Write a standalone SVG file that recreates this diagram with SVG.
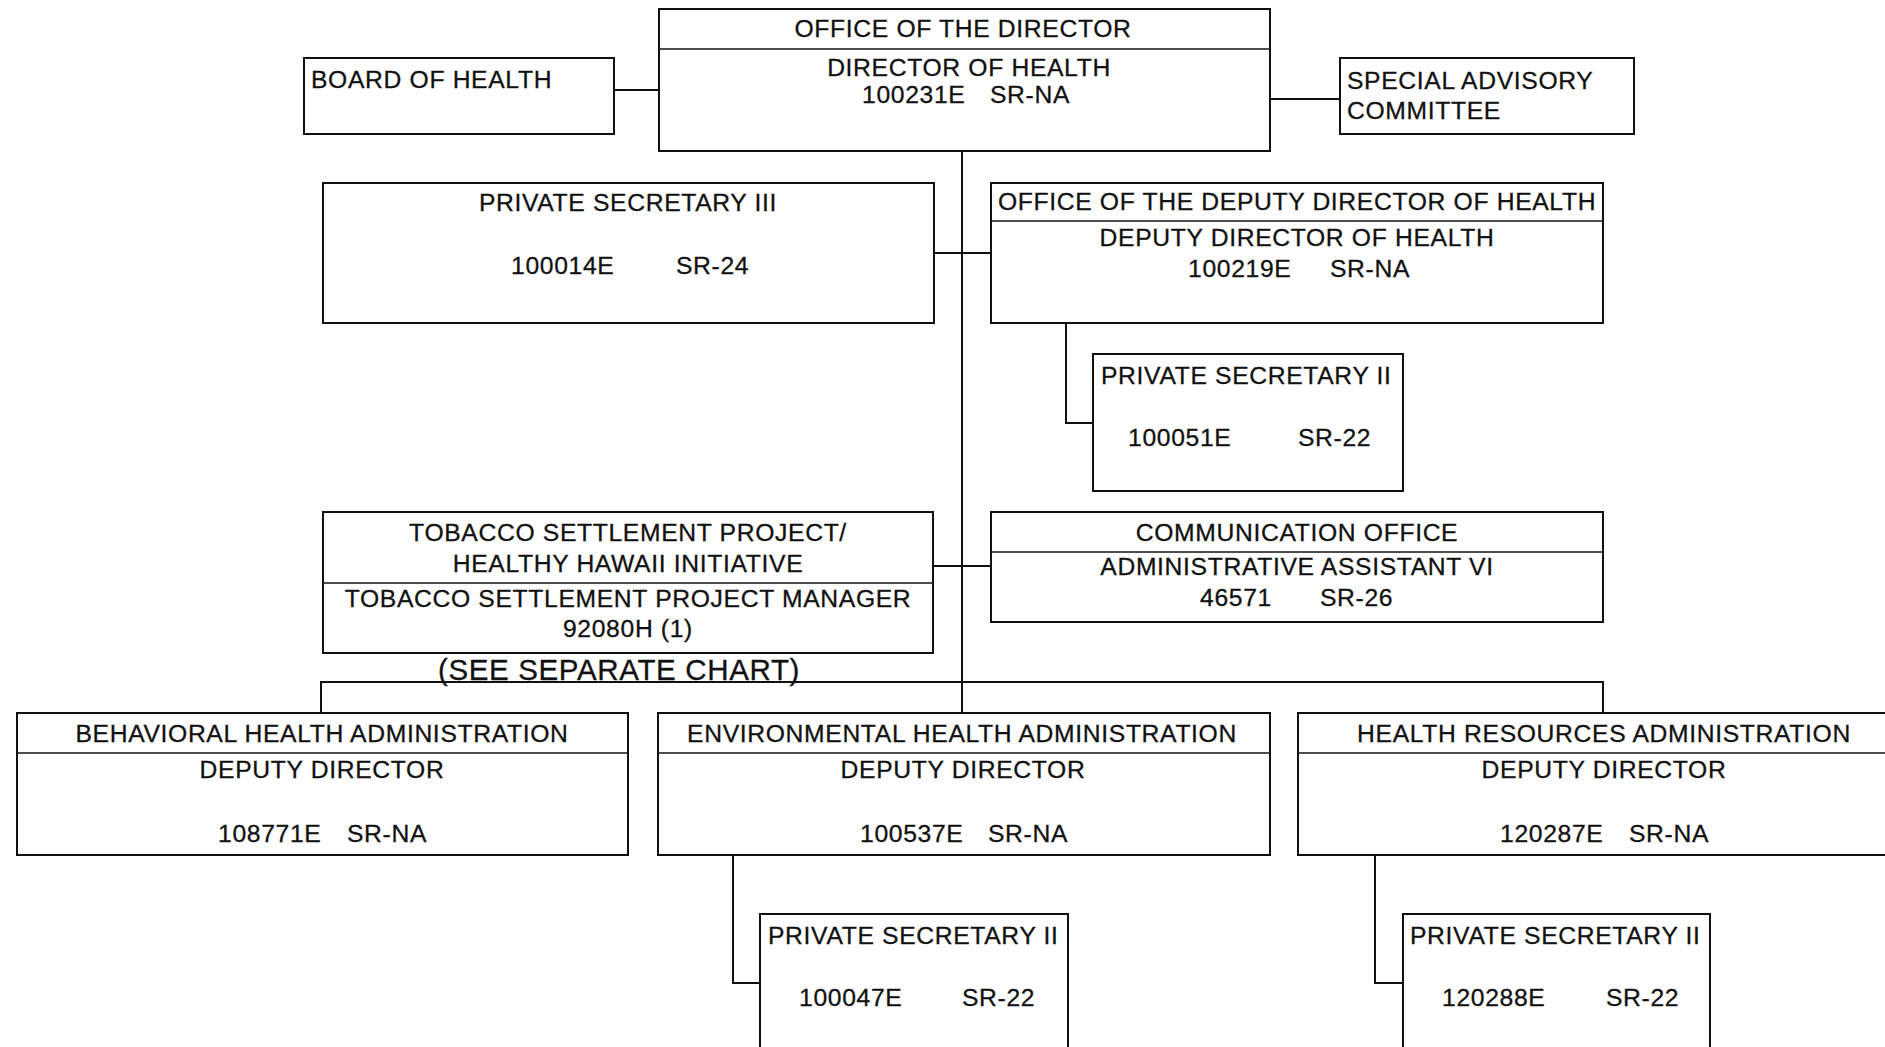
<svg xmlns="http://www.w3.org/2000/svg" width="1885" height="1047" viewBox="0 0 1885 1047">
  <style>
    .box { fill: #ffffff; stroke: #111111; stroke-width: 2; }
    .div { stroke: #111111; stroke-width: 1.6; }
    .ln { fill: none; stroke: #111111; stroke-width: 2; }
    .t { font-family: "Liberation Sans", Arial, sans-serif; font-size: 24.7px; letter-spacing: 0.65px; fill: #111111; stroke: #111111; stroke-width: 0.3px; }
    .c { text-anchor: middle; }
    .big { font-size: 29.5px; }
  </style>
  <rect width="1885" height="1047" fill="#ffffff"/>

  <!-- connecting lines -->
  <g id="connectors">
    <path class="ln" d="M962 150 V713"/>
    <path class="ln" d="M614 90 H659"/>
    <path class="ln" d="M1270 99 H1340"/>
    <path class="ln" d="M934 253 H991"/>
    <path class="ln" d="M1066 323 V423 H1093"/>
    <path class="ln" d="M933 566 H991"/>
    <path class="ln" d="M321 713 V682 H1603 V713"/>
    <path class="ln" d="M733 855 V983 H760"/>
    <path class="ln" d="M1375 855 V983 H1403"/>
  </g>

  <g id="director">
    <rect class="box" x="659" y="9" width="611" height="142"/>
    <line class="div" x1="659" y1="49" x2="1270" y2="49"/>
    <text class="t c" x="963" y="37">OFFICE OF THE DIRECTOR</text>
    <text class="t c" x="969" y="76">DIRECTOR OF HEALTH</text>
    <text class="t" x="862" y="103">100231E</text>
    <text class="t" x="990" y="103">SR-NA</text>
  </g>

  <g id="board-of-health">
    <rect class="box" x="304" y="58" width="310" height="76"/>
    <text class="t" x="311" y="88">BOARD OF HEALTH</text>
  </g>

  <g id="special-advisory">
    <rect class="box" x="1340" y="58" width="294" height="76"/>
    <text class="t" x="1347" y="89">SPECIAL ADVISORY</text>
    <text class="t" x="1347" y="119">COMMITTEE</text>
  </g>

  <g id="private-secretary-3">
    <rect class="box" x="323" y="183" width="611" height="140"/>
    <text class="t c" x="628" y="211">PRIVATE SECRETARY III</text>
    <text class="t" x="511" y="274">100014E</text>
    <text class="t" x="676" y="274">SR-24</text>
  </g>

  <g id="deputy-director">
    <rect class="box" x="991" y="183" width="612" height="140"/>
    <line class="div" x1="991" y1="221" x2="1603" y2="221"/>
    <text class="t c" x="1297" y="210">OFFICE OF THE DEPUTY DIRECTOR OF HEALTH</text>
    <text class="t c" x="1297" y="246">DEPUTY DIRECTOR OF HEALTH</text>
    <text class="t" x="1188" y="277">100219E</text>
    <text class="t" x="1330" y="277">SR-NA</text>
  </g>

  <g id="deputy-private-secretary">
    <rect class="box" x="1093" y="354" width="310" height="137"/>
    <text class="t" x="1101" y="384">PRIVATE SECRETARY II</text>
    <text class="t" x="1128" y="446">100051E</text>
    <text class="t" x="1298" y="446">SR-22</text>
  </g>

  <g id="tobacco-settlement">
    <rect class="box" x="323" y="512" width="610" height="141"/>
    <line class="div" x1="323" y1="583" x2="933" y2="583"/>
    <text class="t c" x="628" y="541">TOBACCO SETTLEMENT PROJECT/</text>
    <text class="t c" x="628" y="572">HEALTHY HAWAII INITIATIVE</text>
    <text class="t c" x="628" y="607">TOBACCO SETTLEMENT PROJECT MANAGER</text>
    <text class="t c" x="628" y="637">92080H (1)</text>
    <text class="t c big" x="619" y="680">(SEE SEPARATE CHART)</text>
  </g>

  <g id="communication-office">
    <rect class="box" x="991" y="512" width="612" height="110"/>
    <line class="div" x1="991" y1="552" x2="1603" y2="552"/>
    <text class="t c" x="1297" y="541">COMMUNICATION OFFICE</text>
    <text class="t c" x="1297" y="575">ADMINISTRATIVE ASSISTANT VI</text>
    <text class="t" x="1200" y="606">46571</text>
    <text class="t" x="1320" y="606">SR-26</text>
  </g>

  <g id="behavioral-health">
    <rect class="box" x="17" y="713" width="611" height="142"/>
    <line class="div" x1="17" y1="753" x2="628" y2="753"/>
    <text class="t c" x="322" y="742">BEHAVIORAL HEALTH ADMINISTRATION</text>
    <text class="t c" x="322" y="778">DEPUTY DIRECTOR</text>
    <text class="t" x="218" y="842">108771E</text>
    <text class="t" x="347" y="842">SR-NA</text>
  </g>

  <g id="environmental-health">
    <rect class="box" x="658" y="713" width="612" height="142"/>
    <line class="div" x1="658" y1="753" x2="1270" y2="753"/>
    <text class="t c" x="962" y="742">ENVIRONMENTAL HEALTH ADMINISTRATION</text>
    <text class="t c" x="963" y="778">DEPUTY DIRECTOR</text>
    <text class="t" x="860" y="842">100537E</text>
    <text class="t" x="988" y="842">SR-NA</text>
  </g>

  <g id="health-resources">
    <rect class="box" x="1298" y="713" width="612" height="142"/>
    <line class="div" x1="1298" y1="753" x2="1910" y2="753"/>
    <text class="t c" x="1604" y="742">HEALTH RESOURCES ADMINISTRATION</text>
    <text class="t c" x="1604" y="778">DEPUTY DIRECTOR</text>
    <text class="t" x="1500" y="842">120287E</text>
    <text class="t" x="1629" y="842">SR-NA</text>
  </g>

  <g id="environmental-private-secretary">
    <rect class="box" x="760" y="914" width="308" height="150"/>
    <text class="t" x="768" y="944">PRIVATE SECRETARY II</text>
    <text class="t" x="799" y="1006">100047E</text>
    <text class="t" x="962" y="1006">SR-22</text>
  </g>

  <g id="health-resources-private-secretary">
    <rect class="box" x="1403" y="914" width="307" height="150"/>
    <text class="t" x="1410" y="944">PRIVATE SECRETARY II</text>
    <text class="t" x="1442" y="1006">120288E</text>
    <text class="t" x="1606" y="1006">SR-22</text>
  </g>
</svg>
